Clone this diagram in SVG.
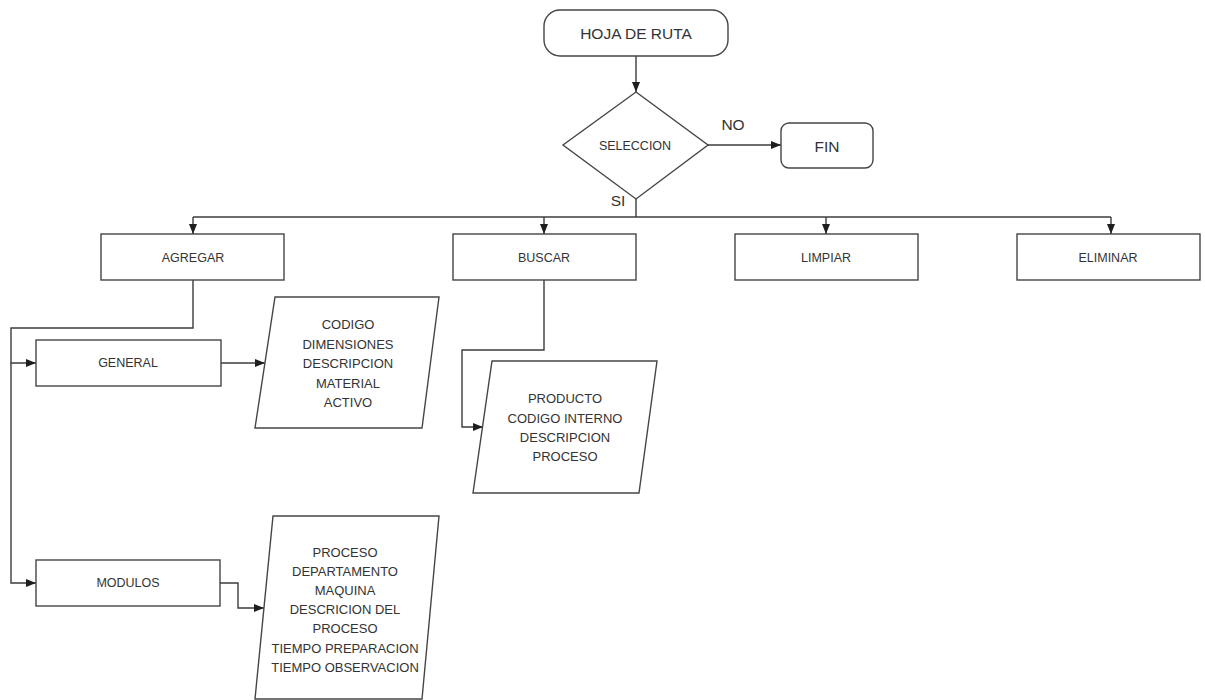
<svg xmlns="http://www.w3.org/2000/svg" width="1205" height="700" viewBox="0 0 1205 700">
  <style>
    .shape { fill: #ffffff; stroke: #454545; stroke-width: 1.4; }
    .wire { fill: none; stroke: #3c3c3c; stroke-width: 1.4; }
    .lbl { font-family: "Liberation Sans", Arial, sans-serif; fill: #333333; text-anchor: middle; dominant-baseline: central; }
    .big { font-size: 15.5px; }
    .mid { font-size: 12.5px; }
    .data { font-size: 13px; }
  </style>
  <defs>
    <marker id="arrow" markerUnits="userSpaceOnUse" markerWidth="10" markerHeight="10" viewBox="0 0 10 10" refX="10" refY="5" orient="auto">
      <path d="M0,1 L10,5 L0,9 Z" fill="#1e1e1e"/>
    </marker>
  </defs>
  <rect width="1205" height="700" fill="#ffffff"/>

  <!-- connectors -->
  <g id="connectors">
    <path class="wire" d="M636,56 V92" marker-end="url(#arrow)"/>
    <path class="wire" d="M708,145 H781" marker-end="url(#arrow)"/>
    <path class="wire" d="M636,199 V217" stroke-width="2"/>
    <path class="wire" d="M193,217 H1111"/>
    <path class="wire" d="M193,217 V234" marker-end="url(#arrow)"/>
    <path class="wire" d="M544,217 V234" marker-end="url(#arrow)"/>
    <path class="wire" d="M826,217 V234" marker-end="url(#arrow)"/>
    <path class="wire" d="M1111,217 V234" marker-end="url(#arrow)"/>
    <path class="wire" d="M193,280 V328 H11 V363 H36" marker-end="url(#arrow)"/>
    <path class="wire" d="M11,363 V583 H36" marker-end="url(#arrow)"/>
    <path class="wire" d="M221,363 H265" marker-end="url(#arrow)"/>
    <path class="wire" d="M220,583 H238 V608 H264" marker-end="url(#arrow)"/>
    <path class="wire" d="M544,280 V350 H462 V427 H483" marker-end="url(#arrow)"/>
    <text class="lbl big" x="733" y="124">NO</text>
    <text class="lbl big" x="618" y="200">SI</text>
  </g>

  <g id="hoja-de-ruta">
    <rect class="shape" x="544" y="10" width="184" height="46" rx="16"/>
    <text class="lbl big" x="636" y="33">HOJA DE RUTA</text>
  </g>

  <g id="seleccion">
    <polygon class="shape" points="636,92 708,145 636,199 563,145"/>
    <text class="lbl mid" x="635" y="146">SELECCION</text>
  </g>

  <g id="fin">
    <rect class="shape" x="781" y="123" width="92" height="45" rx="8"/>
    <text class="lbl big" x="827" y="146">FIN</text>
  </g>

  <g id="agregar">
    <rect class="shape" x="101" y="234" width="183" height="46"/>
    <text class="lbl mid" x="193" y="258">AGREGAR</text>
  </g>

  <g id="buscar">
    <rect class="shape" x="453" y="234" width="183" height="46"/>
    <text class="lbl mid" x="544" y="258">BUSCAR</text>
  </g>

  <g id="limpiar">
    <rect class="shape" x="735" y="234" width="183" height="46"/>
    <text class="lbl mid" x="826" y="258">LIMPIAR</text>
  </g>

  <g id="eliminar">
    <rect class="shape" x="1017" y="234" width="183" height="46"/>
    <text class="lbl mid" x="1108" y="258">ELIMINAR</text>
  </g>

  <g id="general">
    <rect class="shape" x="36" y="340" width="185" height="46"/>
    <text class="lbl mid" x="128" y="363">GENERAL</text>
  </g>

  <g id="modulos">
    <rect class="shape" x="36" y="560" width="184" height="46"/>
    <text class="lbl mid" x="128" y="583">MODULOS</text>
  </g>

  <g id="datos-general">
    <polygon class="shape" points="275,297 439,297 422,428 255,428"/>
    <text class="lbl data" x="348" y="324">CODIGO</text>
    <text class="lbl data" x="348" y="344">DIMENSIONES</text>
    <text class="lbl data" x="348" y="363">DESCRIPCION</text>
    <text class="lbl data" x="348" y="383">MATERIAL</text>
    <text class="lbl data" x="348" y="402">ACTIVO</text>
  </g>

  <g id="datos-buscar">
    <polygon class="shape" points="492,361 657,361 639,493 473,493"/>
    <text class="lbl data" x="565" y="398">PRODUCTO</text>
    <text class="lbl data" x="565" y="418">CODIGO INTERNO</text>
    <text class="lbl data" x="565" y="437">DESCRIPCION</text>
    <text class="lbl data" x="565" y="456">PROCESO</text>
  </g>

  <g id="datos-modulos">
    <polygon class="shape" points="273,516 439,516 422,699 255,699"/>
    <text class="lbl data" x="345" y="552">PROCESO</text>
    <text class="lbl data" x="345" y="571">DEPARTAMENTO</text>
    <text class="lbl data" x="345" y="590">MAQUINA</text>
    <text class="lbl data" x="345" y="609">DESCRICION DEL</text>
    <text class="lbl data" x="345" y="628">PROCESO</text>
    <text class="lbl data" x="345" y="648">TIEMPO PREPARACION</text>
    <text class="lbl data" x="345" y="667">TIEMPO OBSERVACION</text>
  </g>
</svg>
